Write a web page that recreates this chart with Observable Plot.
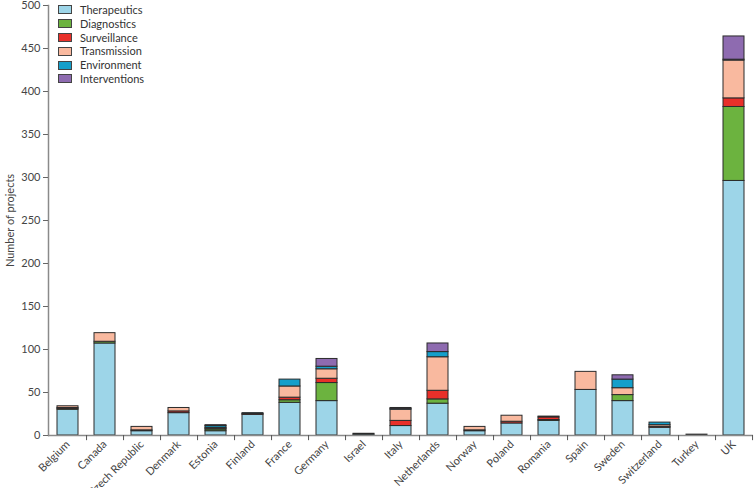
<!DOCTYPE html>
<html>
<head>
<meta charset="utf-8">
<script src="https://cdn.jsdelivr.net/npm/d3@7"></script>
<script src="https://cdn.jsdelivr.net/npm/@observablehq/plot@0.6"></script>
<style>
  html, body { margin: 0; padding: 0; background: #fff; }
  #wrap { position: relative; width: 754px; height: 488px; font-family: Lato, "Open Sans", sans-serif; }
  #legend { position: absolute; left: 58px; top: 3px; font-size: 11px; color: #333; line-height: 13.8px; }
  #legend .row { display: flex; align-items: center; }
  #legend .sw { width: 14px; height: 9px; border: 1px solid #444; margin-right: 8px; box-sizing: border-box; }
</style>
</head>
<body>
<div id="wrap"><div id="legend"></div></div>
<script>
const categories = ["Belgium","Canada","Czech Republic","Denmark","Estonia","Finland","France","Germany","Israel","Italy","Netherlands","Norway","Poland","Romania","Spain","Sweden","Switzerland","Turkey","UK"];
const types = ["Therapeutics","Diagnostics","Surveillance","Transmission","Environment","Interventions"];
const colors = ["#9dd5e8","#6cb33f","#e8302a","#f9b99f","#159fca","#8e6bb0"];

const therapeutics  = [30,107,5,26,5,24,38,40,1,11,37,5,14,17,53,40,9,1,296];
const diagnostics   = [1,2,0,0,2,0,3,21,0,0,5,0,0,1,0,7,0,0,86];
const surveillance  = [1,0,1,2,1,1,3,5,0,6,10,1,2,3,0,0,1,0,10];
const transmission  = [2,10,4,4,1,0,13,11,0,13,39,4,7,1,21,8,2,0,44];
const environment   = [0,0,0,0,2,1,8,3,1,1,6,0,0,0,0,10,3,0,1];
const interventions = [0,0,0,0,1,0,0,9,0,1,10,0,0,0,0,5,0,0,27];
const yTicks = [0,50,100,150,200,250,300,350,400,450,500];

const series = [therapeutics, diagnostics, surveillance, transmission, environment, interventions];
const data = [];
categories.forEach((c, i) => {
  types.forEach((t, j) => {
    if (series[j][i] > 0) data.push({country: c, type: t, value: series[j][i]});
  });
});

const marginLeft = 48, marginRight = 1, width = 754;
const step = (width - marginLeft - marginRight) / categories.length;

const chart = Plot.plot({
  width: width,
  height: 488,
  marginLeft: marginLeft,
  marginRight: marginRight,
  marginTop: 5,
  marginBottom: 53,
  style: {fontFamily: "Lato, 'Open Sans', sans-serif", fontSize: "11px", color: "#444", background: "#fff"},
  x: {domain: categories, paddingInner: 0.43, paddingOuter: 0.215},
  y: {domain: [0, 500]},
  color: {domain: types, range: colors},
  marks: [
    Plot.barY(data, {x: "country", y: "value", fill: "type", stroke: "#2b2b2b", strokeWidth: 1}),
    Plot.frame({anchor: "left", stroke: "#8a8a8a", strokeWidth: 1.5}),
    Plot.ruleY([0], {stroke: "#8a8a8a", strokeWidth: 1.5}),
    Plot.ruleX(categories, {x: d => d, y1: 0, y2: -6, dx: step / 2, stroke: "#555", strokeWidth: 1}),
    Plot.axisY({ticks: yTicks, tickSize: 5, tickPadding: 3, stroke: "#666", fill: "#444", label: "Number of projects", labelAnchor: "center", labelArrow: "none", labelOffset: 42, fontSize: 11}),
    Plot.axisX({tickSize: 0, tickPadding: 7, tickRotate: -45, label: null, fill: "#444", fontSize: 11})
  ]
});
document.getElementById("wrap").prepend(chart);

const legend = document.getElementById("legend");
types.forEach((t, i) => {
  const row = document.createElement("div");
  row.className = "row";
  const sw = document.createElement("span");
  sw.className = "sw";
  sw.style.background = colors[i];
  const lab = document.createElement("span");
  lab.textContent = t;
  row.appendChild(sw); row.appendChild(lab);
  legend.appendChild(row);
});
</script>
</body>
</html>
